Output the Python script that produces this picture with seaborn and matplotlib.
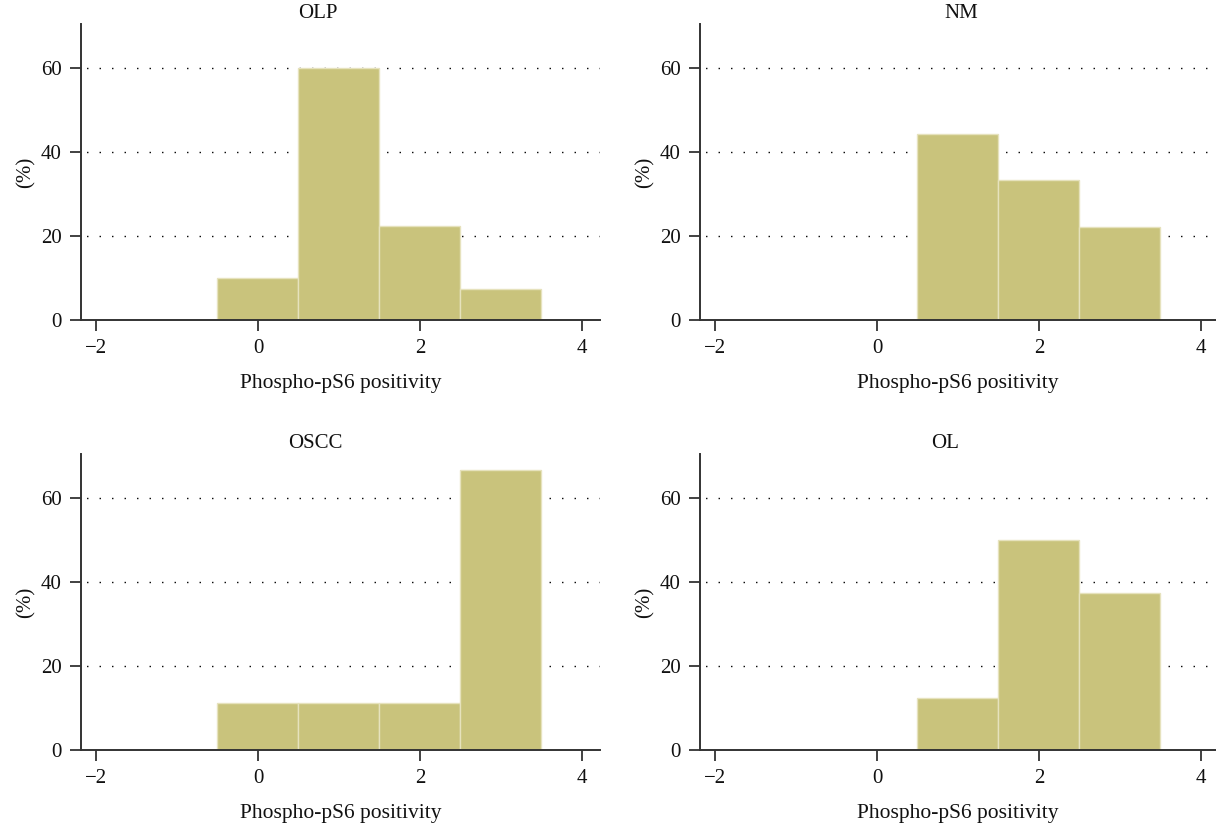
import matplotlib
matplotlib.use("Agg")
import matplotlib.pyplot as plt
import seaborn as sns
import pandas as pd

# valores (% por nível de positividade)
niveis = [0, 1, 2, 3]
olp = [10.0, 60.0, 22.5, 7.5]
nm = [0.0, 44.4, 33.3, 22.2]
oscc = [11.1, 11.1, 11.1, 66.7]
ol = [0.0, 12.5, 50.0, 37.5]

grupos = ["OLP", "NM", "OSCC", "OL"]
valores = [olp, nm, oscc, ol]
xticks = [-2, 0, 2, 4]
yticks = [0, 20, 40, 60]

sns.set_theme(style="white")
plt.rcParams["font.family"] = ["Liberation Serif", "DejaVu Serif"]

cor_barra = "#c9c37c"
cor_eixo = "#333333"

fig = plt.figure(figsize=(12.16, 8.26), dpi=100)
W, H = 1216, 826
# caixas dos eixos em pixels: (esquerda, topo, direita, base)
caixas = [(81, 24, 600, 320), (700, 24, 1216, 320),
          (81, 454, 600, 750), (700, 454, 1216, 750)]
titulo_x = [318, 961, 315, 945]

for grupo, vals, caixa, tx in zip(grupos, valores, caixas, titulo_x):
    l, t, r, b = caixa
    ax = fig.add_axes([l / W, 1 - b / H, (r - l) / W, (b - t) / H])
    df = pd.DataFrame({"nivel": niveis, "pct": vals})
    df = df[df["pct"] > 0]
    sns.histplot(data=df, x="nivel", weights="pct", discrete=True, ax=ax,
                 color=cor_barra, alpha=1, edgecolor="#e6e2bd", linewidth=1,
                 zorder=2)
    ax.set_xlim(-2.185, -2.185 + (r - l) / 81)
    ax.set_ylim(0, 70.5)
    ax.set_xticks(xticks)
    ax.set_xticklabels(["\u22122", "0", "2", "4"])
    ax.set_yticks(yticks)
    for yv in yticks[1:]:
        ax.axhline(yv, color="black", linestyle=(-4, (1, 8)), linewidth=1, zorder=1)
    for lado in ["top", "right"]:
        ax.spines[lado].set_visible(False)
    for lado in ["left", "bottom"]:
        ax.spines[lado].set_color(cor_eixo)
        ax.spines[lado].set_linewidth(1.4)
    ax.tick_params(axis="both", which="both", length=8, width=1.3, color=cor_eixo,
                   labelsize=15, labelcolor="#111111", bottom=True, left=True, pad=6)
    ax.set_xlabel("Phospho-pS6 positivity", fontsize=15.5, color="#111111", labelpad=11)
    ax.set_ylabel("(%)", fontsize=15, color="#111111", labelpad=4)
    ax.grid(False)
    fig.text(tx / W, 1 - (t - 10) / H, grupo, ha="center", va="center",
             fontsize=15, color="#111111")

fig.savefig("out.png", dpi=100)
